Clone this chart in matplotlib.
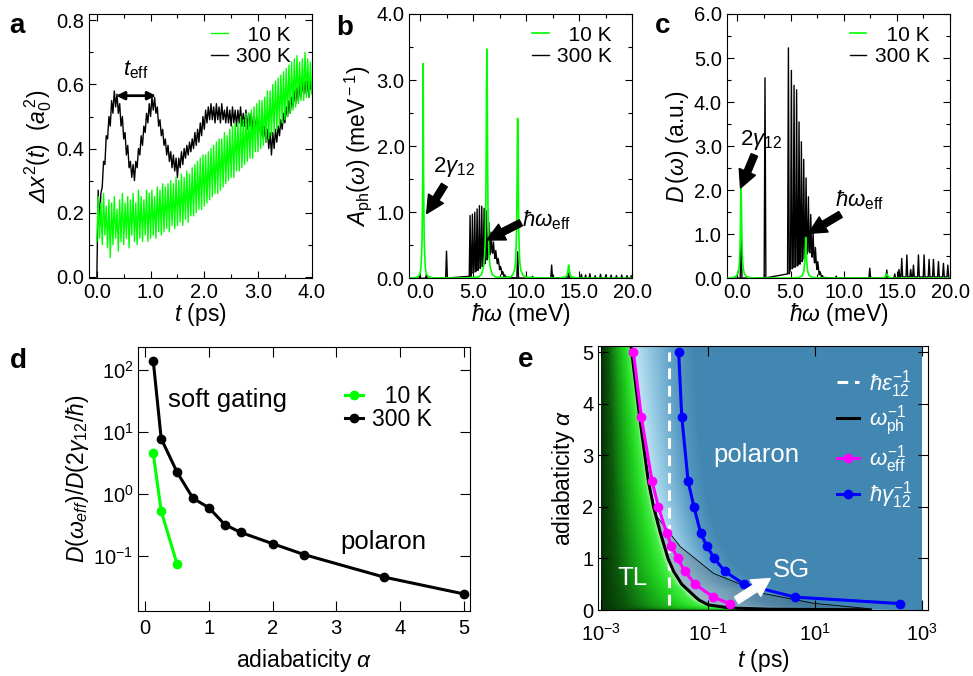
import numpy as np
import matplotlib
matplotlib.use("Agg")
import matplotlib.pyplot as plt
from matplotlib.colors import LinearSegmentedColormap
from matplotlib.lines import Line2D
from matplotlib.ticker import MultipleLocator, FixedLocator, NullLocator, FormatStrFormatter

plt.rcParams['font.family'] = ['Liberation Sans', 'DejaVu Sans']
plt.rcParams['mathtext.fontset'] = 'custom'
plt.rcParams['mathtext.rm'] = 'Liberation Sans'
plt.rcParams['mathtext.it'] = 'Liberation Sans:italic'
plt.rcParams['mathtext.bf'] = 'Liberation Sans:bold'
plt.rcParams['mathtext.sf'] = 'Liberation Sans:italic'   # used for the slanted capital Delta

GREEN = '#00ff00'
TICK = 14.5
LABEL = 16.5

# ---- panel a: mean square displacement, sampled every 0.025 ps ----
dt_a = 0.025
dx2_300K = [
    0.00, 0.27, 0.16, 0.26, 0.28, 0.36, 0.35, 0.44, 0.43, 0.50,
    0.47, 0.55, 0.51, 0.58, 0.53, 0.57, 0.51, 0.54, 0.47, 0.50,
    0.43, 0.45, 0.38, 0.41, 0.34, 0.36, 0.31, 0.35, 0.30, 0.36,
    0.34, 0.40, 0.38, 0.44, 0.41, 0.47, 0.45, 0.51, 0.48, 0.54,
    0.50, 0.56, 0.52, 0.56, 0.51, 0.53, 0.47, 0.49, 0.44, 0.46,
    0.41, 0.43, 0.38, 0.41, 0.36, 0.39, 0.34, 0.38, 0.33, 0.37,
    0.31, 0.37, 0.34, 0.39, 0.35, 0.40, 0.37, 0.41, 0.38, 0.42,
    0.39, 0.43, 0.40, 0.45, 0.41, 0.46, 0.42, 0.48, 0.44, 0.50,
    0.46, 0.52, 0.48, 0.53, 0.49, 0.54, 0.49, 0.53, 0.48, 0.54,
    0.49, 0.53, 0.48, 0.54, 0.49, 0.52, 0.48, 0.53, 0.48, 0.52,
    0.47, 0.53, 0.48, 0.52, 0.47, 0.52, 0.48, 0.53, 0.47, 0.51,
    0.47, 0.52, 0.46, 0.51, 0.47, 0.51, 0.46, 0.50, 0.46, 0.50,
    0.45, 0.49, 0.44, 0.48, 0.43, 0.47, 0.42, 0.46, 0.40, 0.45,
    0.38, 0.45, 0.40, 0.46, 0.42, 0.47, 0.44, 0.49, 0.46, 0.51,
    0.48, 0.53, 0.50, 0.55, 0.51, 0.56, 0.53, 0.58, 0.54, 0.59,
    0.55, 0.60, 0.56, 0.61, 0.57, 0.61, 0.57, 0.61, 0.56, 0.61,
    0.58]
dx2_10K = [
    0.11, 0.25, 0.12, 0.23, 0.10, 0.26, 0.13, 0.22, 0.09, 0.24,
    0.06, 0.23, 0.10, 0.25, 0.12, 0.21, 0.08, 0.24, 0.11, 0.26,
    0.10, 0.23, 0.12, 0.25, 0.09, 0.24, 0.13, 0.26, 0.11, 0.23,
    0.10, 0.27, 0.12, 0.25, 0.11, 0.24, 0.13, 0.27, 0.11, 0.26,
    0.12, 0.27, 0.13, 0.25, 0.12, 0.28, 0.14, 0.27, 0.13, 0.29,
    0.14, 0.28, 0.15, 0.29, 0.14, 0.30, 0.16, 0.29, 0.15, 0.31,
    0.16, 0.30, 0.17, 0.32, 0.16, 0.31, 0.18, 0.33, 0.17, 0.32,
    0.19, 0.34, 0.19, 0.35, 0.20, 0.36, 0.21, 0.37, 0.21, 0.38,
    0.22, 0.38, 0.23, 0.39, 0.24, 0.40, 0.25, 0.41, 0.26, 0.42,
    0.26, 0.43, 0.27, 0.43, 0.28, 0.45, 0.29, 0.44, 0.30, 0.46,
    0.31, 0.47, 0.31, 0.48, 0.33, 0.48, 0.33, 0.50, 0.34, 0.49,
    0.35, 0.51, 0.36, 0.51, 0.37, 0.52, 0.37, 0.53, 0.39, 0.54,
    0.39, 0.55, 0.40, 0.55, 0.41, 0.56, 0.42, 0.58, 0.43, 0.58,
    0.44, 0.60, 0.45, 0.61, 0.46, 0.62, 0.47, 0.63, 0.48, 0.64,
    0.49, 0.65, 0.50, 0.66, 0.51, 0.67, 0.52, 0.68, 0.53, 0.69,
    0.54, 0.67, 0.55, 0.68, 0.55, 0.70, 0.56, 0.68, 0.56, 0.67,
    0.57]

# ---- panel b: phonon spectral function (meV, meV^-1) ----
b_green_x = [-1.0, -0.5, -0.2, 0.0, 0.1, 0.15, 0.2, 0.23, 0.265, 0.3, 0.335, 0.37, 0.4, 0.45, 0.5, 0.6, 0.8, 1.1, 1.8,
             4.5, 5.5, 5.8, 6.0, 6.1, 6.15, 6.2, 6.23, 6.265, 6.3, 6.335, 6.37, 6.4, 6.45, 6.5, 6.6, 6.8, 7.1, 8.0,
             8.5, 8.7, 8.9, 9.0, 9.05, 9.1, 9.13, 9.165, 9.2, 9.235, 9.27, 9.3, 9.35, 9.4, 9.5, 9.7, 10.0, 11.0,
             13.0, 13.7, 13.85, 13.93, 14.0, 14.07, 14.15, 14.3, 15.0, 20.0]
b_green_y = [0.0, 0.007, 0.025, 0.063, 0.17, 0.36, 0.58, 1.07, 1.62, 3.25, 1.62, 1.07, 0.58, 0.36, 0.17, 0.063, 0.025, 0.01, 0.004,
             0.005, 0.02, 0.06, 0.18, 0.38, 0.62, 1.14, 1.73, 2.78, 3.47, 2.78, 1.73, 1.14, 0.62, 0.38, 0.18, 0.06, 0.02, 0.01,
             0.02, 0.045, 0.12, 0.25, 0.43, 0.75, 1.2, 1.94, 2.42, 1.94, 1.2, 0.75, 0.43, 0.25, 0.12, 0.045, 0.02, 0.005,
             0.003, 0.02, 0.05, 0.12, 0.20, 0.12, 0.05, 0.02, 0.003, 0.0]
b_black_pos = [0.0, 0.6, 2.5, 4.72, 4.94, 5.16, 5.38, 5.60, 5.82, 6.04, 6.26, 6.48, 6.70, 6.92, 7.14, 7.36,
               7.58, 7.80, 8.0, 9.2, 10.6, 12.4, 14.0, 15.2, 15.6, 16.0, 16.5, 17.0, 17.5, 18.0, 18.5, 19.0,
               19.5, 19.9]
b_black_height = [0.04, 0.05, 0.41, 0.95, 0.97, 1.00, 1.05, 1.10, 1.09, 1.06, 1.02, 0.85, 0.70, 0.55, 0.42, 0.30,
                  0.18, 0.10, 0.05, 0.40, 0.03, 0.20, 0.08, 0.06, 0.05, 0.07, 0.04, 0.06, 0.05, 0.05, 0.04, 0.05,
                  0.04, 0.04]
b_black_floor = [0.0, 0.0, 0.005, 0.03, 0.08, 0.10, 0.12, 0.15, 0.18, 0.22, 0.28, 0.35, 0.40, 0.38, 0.30, 0.22,
                 0.13, 0.06, 0.02, 0.005, 0.0, 0.005, 0.005, 0.0, 0.0, 0.0, 0.0, 0.0, 0.0, 0.0, 0.0, 0.0,
                 0.0, 0.0]

# ---- panel c: spectral density (a.u.) ----
c_green_x = [-1.0, -0.45, -0.15, 0.05, 0.15, 0.2, 0.25, 0.28, 0.315, 0.35, 0.385, 0.42, 0.45, 0.5, 0.55, 0.65, 0.85, 1.15, 2.0,
             5.0, 5.8, 6.1, 6.25, 6.33, 6.38, 6.43, 6.48, 6.53, 6.61, 6.76, 7.06, 8.0,
             13.5, 13.9, 14.05, 14.2, 14.6, 20.0]
c_green_y = [0.0, 0.016, 0.04, 0.11, 0.23, 0.37, 0.67, 1.02, 1.64, 2.05, 1.64, 1.02, 0.67, 0.37, 0.23, 0.11, 0.04, 0.016, 0.004,
             0.005, 0.02, 0.06, 0.16, 0.36, 0.62, 0.93, 0.62, 0.36, 0.16, 0.06, 0.02, 0.005,
             0.003, 0.03, 0.10, 0.03, 0.003, 0.0]
c_black_pos = [0.35, 2.6, 4.80, 5.08, 5.33, 5.57, 5.80, 6.02, 6.24, 6.46, 6.68, 6.90, 7.12, 7.34, 7.56, 7.78,
               8.0, 9.3, 12.45, 14.05, 14.8, 15.2, 15.46, 15.94, 16.3, 16.56, 17.03, 17.56, 18.03, 18.44, 18.91,
               19.38, 19.79]
c_black_height = [1.29, 4.55, 5.23, 4.72, 4.38, 4.28, 3.55, 3.10, 2.70, 2.28, 1.85, 1.45, 1.05, 0.70, 0.38, 0.15,
                  0.06, 0.05, 0.23, 0.19, 0.10, 0.20, 0.45, 0.53, 0.20, 0.30, 0.53, 0.53, 0.43, 0.43, 0.38,
                  0.34, 0.30]
c_black_floor = [0.005, 0.01, 0.10, 0.22, 0.25, 0.28, 0.32, 0.38, 0.45, 0.55, 0.60, 0.58, 0.48, 0.35, 0.20, 0.08,
                 0.02, 0.005, 0.005, 0.01, 0.01, 0.02, 0.03, 0.03, 0.03, 0.03, 0.03, 0.03, 0.03, 0.03, 0.03,
                 0.03, 0.03]

# ---- panel d: ratio vs adiabaticity ----
alpha_d = [0.125, 0.25, 0.5, 0.75, 1.0, 1.25, 1.5, 2.0, 2.5, 3.75, 5.0]
ratio_300K = [141, 7.8, 2.24, 0.85, 0.60, 0.32, 0.24, 0.158, 0.105, 0.0457, 0.0245]
alpha_d10 = [0.125, 0.25, 0.5]
ratio_10K = [4.5, 0.53, 0.074]

# ---- panel e: time scales vs adiabaticity ----
alpha_e = [5.0, 3.75, 2.5, 2.0, 1.5, 1.25, 1.0, 0.75, 0.5, 0.25, 0.125]
t_eff = [0.0040, 0.0056, 0.0089, 0.0117, 0.0166, 0.0204, 0.0268, 0.0366, 0.057, 0.125, 0.25]
t_gamma = [0.028, 0.032, 0.042, 0.054, 0.072, 0.093, 0.13, 0.205, 0.47, 4.2, 390]
alpha_ph = [5.12, 3.75, 2.5, 2.0, 1.5, 1.0, 0.75, 0.5, 0.25, 0.19, 0.1, 0.04, 0.015, 0.005]
t_ph = [0.0036, 0.0052, 0.0076, 0.0095, 0.0127, 0.0177, 0.0225, 0.032, 0.058, 0.068, 0.10, 0.25, 1.5, 107]
alpha_sg = [2.5, 1.81, 1.23, 0.71, 0.32, 0.13, 0.03, 0.005]
t_sg = [0.0076, 0.011, 0.030, 0.126, 1.08, 9.3, 94, 107]
t_eps = 0.0184


def spike_line(pos, height, floor, hw=0.08):
    xs, ys = [-1.0], [0.0]
    for c, h, f in zip(pos, height, floor):
        xs += [c - hw, c, c + hw]
        ys += [f, h, f]
    xs.append(20.0)
    ys.append(0.0)
    return xs, ys


def style(ax, major=5, minor=3, labelsize=TICK):
    ax.tick_params(which='both', direction='in', top=True, right=True, width=0.8, labelsize=labelsize)
    ax.tick_params(which='major', length=major)
    ax.tick_params(which='minor', length=minor)
    for s in ax.spines.values():
        s.set_linewidth(0.8)


def arrow(ax, text_xy, tip_xy, color='black'):
    ax.annotate('', xy=tip_xy, xytext=text_xy,
                arrowprops=dict(arrowstyle='simple,head_width=0.9,head_length=0.9,tail_width=0.35',
                                color=color, mutation_scale=14, shrinkA=0, shrinkB=0))


def temp_legend(ax, l10, l300):
    ax.legend([l10, l300], ['  10 K', '300 K'], loc='upper right', bbox_to_anchor=(0.955, 0.995),
              frameon=False, fontsize=15, handlelength=0.8, handletextpad=0.4, borderpad=0,
              labelspacing=0.1)


fig = plt.figure(figsize=(9.73, 6.76), dpi=100)

# ================= a =================
ax = fig.add_axes([0.0918, 0.5883, 0.2286, 0.391])
t_a = np.arange(len(dx2_300K)) * dt_a
l300, = ax.plot(t_a, dx2_300K, color='black', lw=1.0, zorder=2)
l10, = ax.plot(t_a, dx2_10K, color=GREEN, lw=1.0, zorder=3)
ax.set_xlim(-0.14, 4.0)
ax.set_ylim(-0.005, 0.82)
ax.xaxis.set_major_locator(MultipleLocator(1.0))
ax.xaxis.set_minor_locator(MultipleLocator(0.5))
ax.yaxis.set_major_locator(MultipleLocator(0.2))
ax.yaxis.set_minor_locator(MultipleLocator(0.1))
ax.xaxis.set_major_formatter(FormatStrFormatter('%.1f'))
ax.yaxis.set_major_formatter(FormatStrFormatter('%.1f'))
style(ax)
ax.set_xlabel(r'$t$ (ps)', fontsize=LABEL, labelpad=-1)
ax.set_ylabel(r'$\mathsf{\Delta} x^2(t)$  $(a_0^{\,2})$', fontsize=LABEL, labelpad=2)
temp_legend(ax, l10, l300)
ax.annotate('', xy=(0.36, 0.565), xytext=(1.10, 0.565),
            arrowprops=dict(arrowstyle='<|-|>', color='black', lw=2, mutation_scale=12, shrinkA=0, shrinkB=0))
ax.text(0.73, 0.645, r'$t_{\rm eff}$', fontsize=16, ha='center', va='center')

# ================= b =================
ax = fig.add_axes([0.4207, 0.5883, 0.2292, 0.391])
bx, by = spike_line(b_black_pos, b_black_height, b_black_floor)
l300, = ax.plot(bx, by, color='black', lw=1.0, zorder=2)
l10, = ax.plot(b_green_x, b_green_y, color=GREEN, lw=1.2, zorder=3)
ax.set_xlim(-1, 20)
ax.set_ylim(0, 4.0)
ax.xaxis.set_major_locator(MultipleLocator(5.0))
ax.xaxis.set_minor_locator(MultipleLocator(2.5))
ax.yaxis.set_major_locator(MultipleLocator(1.0))
ax.yaxis.set_minor_locator(MultipleLocator(0.5))
ax.xaxis.set_major_formatter(FormatStrFormatter('%.1f'))
ax.yaxis.set_major_formatter(FormatStrFormatter('%.1f'))
style(ax)
ax.set_xlabel(r'$\hbar\omega$ (meV)', fontsize=LABEL, labelpad=-1)
ax.set_ylabel(r'$A_{\rm ph}(\omega)$ (meV$^{\rm -1}$)', fontsize=LABEL, labelpad=2)
temp_legend(ax, l10, l300)
ax.text(1.2, 1.69, r'$2\gamma_{12}$', fontsize=16, ha='left', va='center')
arrow(ax, (2.3, 1.41), (0.63, 0.98))
ax.text(9.6, 0.88, r'$\hbar\omega_{\rm eff}$', fontsize=16, ha='left', va='center')
arrow(ax, (9.5, 0.84), (6.3, 0.58))

# ================= c =================
ax = fig.add_axes([0.7469, 0.5883, 0.2295, 0.391])
cx, cy = spike_line(c_black_pos, c_black_height, c_black_floor)
l300, = ax.plot(cx, cy, color='black', lw=1.0, zorder=2)
l10, = ax.plot(c_green_x, c_green_y, color=GREEN, lw=1.2, zorder=3)
ax.set_xlim(-1, 20)
ax.set_ylim(0, 6.0)
ax.xaxis.set_major_locator(MultipleLocator(5.0))
ax.xaxis.set_minor_locator(MultipleLocator(2.5))
ax.yaxis.set_major_locator(MultipleLocator(1.0))
ax.yaxis.set_minor_locator(MultipleLocator(0.5))
ax.xaxis.set_major_formatter(FormatStrFormatter('%.1f'))
ax.yaxis.set_major_formatter(FormatStrFormatter('%.1f'))
style(ax)
ax.set_xlabel(r'$\hbar\omega$ (meV)', fontsize=LABEL, labelpad=-1)
ax.set_ylabel(r'$D\,(\omega)$ (a.u.)', fontsize=LABEL, labelpad=2)
temp_legend(ax, l10, l300)
ax.text(0.25, 3.15, r'$2\gamma_{12}$', fontsize=16, ha='left', va='center')
arrow(ax, (1.6, 2.8), (0.3, 2.05))
ax.text(9.2, 1.78, r'$\hbar\omega_{\rm eff}$', fontsize=16, ha='left', va='center')
arrow(ax, (9.7, 1.45), (6.7, 1.02))

# ================= d =================
ax = fig.add_axes([0.1421, 0.0962, 0.3409, 0.391])
l300, = ax.plot(alpha_d, ratio_300K, color='black', lw=2.2, marker='o', ms=6)
l10, = ax.plot(alpha_d10, ratio_10K, color=GREEN, lw=2.2, marker='o', ms=6)
ax.set_yscale('log')
ax.set_xlim(-0.11, 5.1)
ax.set_ylim(0.013, 237)
ax.xaxis.set_major_locator(MultipleLocator(1))
ax.yaxis.set_major_locator(FixedLocator([0.1, 1, 10, 100]))
ax.yaxis.set_minor_locator(NullLocator())
style(ax, major=7)
ax.tick_params(axis='x', pad=6)
ax.set_xlabel(r'adiabaticity $\alpha$', fontsize=LABEL, labelpad=6)
ax.set_ylabel(r'$D(\omega_{eff})/D(2\gamma_{12}/\hbar)$', fontsize=LABEL, labelpad=2)
ax.legend([l10, l300], ['  10 K', '300 K'], loc='upper right', bbox_to_anchor=(0.92, 0.9),
          frameon=False, fontsize=16.5, handlelength=0.8, handletextpad=0.4, borderpad=0, labelspacing=0.0)
ax.text(0.35, 32.8, 'soft gating', fontsize=18.5, ha='left', va='center')
ax.text(3.06, 0.168, 'polaron', fontsize=18.5, ha='left', va='center')

# ================= e =================
ax = fig.add_axes([0.6149, 0.0976, 0.3389, 0.3905])
ax.set_xscale('log')

# background shading: green before the phonon time, blue fading after it
L_edges = np.linspace(-3, 3, 481)
A_edges = np.linspace(0, 5.12, 257)
Lc = 0.5 * (L_edges[1:] + L_edges[:-1])
Ac = 0.5 * (A_edges[1:] + A_edges[:-1])
lph = np.interp(Ac, alpha_ph[::-1], np.log10(t_ph)[::-1])
lg = np.interp(Ac, alpha_e[::-1], np.log10(t_gamma)[::-1])
width = np.clip(lg - lph + 0.3, 0.5, 1.8)
LL, LPH = np.meshgrid(Lc, lph)
W = np.meshgrid(Lc, width)[1]
g = np.clip((LL + 3) / (LPH + 3), 0, 1)
b = np.clip((LL - LPH) / W, 0, 1)
S = np.where(LL < LPH, 0.5 * g, 0.5 + 0.5 * b)
cmap = LinearSegmentedColormap.from_list('bg', [
    (0.0, '#053005'), (0.12, '#0c5a0c'), (0.25, '#15a015'), (0.38, '#22d822'),
    (0.46, '#45ee45'), (0.495, '#c4f4c4'), (0.505, '#c6e6f4'), (0.62, '#9acde6'),
    (0.82, '#5b9dc4'), (1.0, '#4287b1')])
ax.pcolormesh(10 ** L_edges, A_edges, S, cmap=cmap, vmin=0, vmax=1, shading='flat',
              rasterized=True, zorder=0)

sg_x = np.concatenate([t_ph[2:], t_sg[::-1]])
sg_y = np.concatenate([alpha_ph[2:], alpha_sg[::-1]])
ax.fill(sg_x, sg_y, color='#4a5a66', alpha=0.3, lw=0, zorder=1)
ax.plot(t_sg, alpha_sg, color='black', lw=0.6, zorder=2)

ax.vlines(t_eps, 0.1, 5.0, colors='white', lw=2.2, linestyles=(0, (3.5, 2.2)), zorder=3)
h_ph, = ax.plot(t_ph, alpha_ph, color='black', lw=2.2, zorder=4)
h_eff, = ax.plot(t_eff, alpha_e, color='#ff00ff', lw=2.2, marker='o', ms=6, zorder=5)
h_gam, = ax.plot(t_gamma, alpha_e, color='#0000ff', lw=2.2, marker='o', ms=6, zorder=5)

ax.set_xlim(8.8e-4, 1.29e3)
ax.set_ylim(0, 5.12)
ax.xaxis.set_major_locator(FixedLocator([1e-3, 1e-1, 1e1, 1e3]))
ax.xaxis.set_minor_locator(NullLocator())
ax.yaxis.set_major_locator(MultipleLocator(1))
style(ax, major=7)
ax.tick_params(axis='x', pad=9)
ax.set_xlabel(r'$t$ (ps)', fontsize=LABEL, labelpad=2)
ax.set_ylabel(r'adiabaticity $\alpha$', fontsize=LABEL, labelpad=4)

leg_eps = Line2D([], [], color='white', lw=2.2, linestyle=(0, (3.5, 2.2)))
ax.legend([leg_eps, h_ph, h_eff, h_gam],
          [r'$\hbar\varepsilon_{12}^{-1}$', r'$\omega_{\rm ph}^{-1}$',
           r'$\omega_{\rm eff}^{-1}$', r'$\hbar\gamma_{12}^{-1}$'],
          loc='upper left', bbox_to_anchor=(0.69, 0.96), frameon=False, fontsize=16,
          labelcolor='white', handlelength=1.0, handletextpad=0.45, labelspacing=0.2, borderpad=0)
ax.text(0.124, 3.0, 'polaron', color='white', fontsize=18.5, ha='left', va='center')
ax.text(0.002, 0.62, 'TL', color='white', fontsize=18.5, ha='left', va='center')
ax.text(1.64, 0.78, 'SG', color='white', fontsize=18.5, ha='left', va='center')
ax.annotate('', xy=(1.44, 0.61), xytext=(0.34, 0.19),
            arrowprops=dict(arrowstyle='simple,head_width=1.0,head_length=0.9,tail_width=0.4',
                            color='white', mutation_scale=14, shrinkA=0, shrinkB=0), zorder=6)

# panel letters
for lab, x, y in [('a', 0.010, 0.951), ('b', 0.346, 0.948), ('c', 0.673, 0.951),
                  ('d', 0.010, 0.456), ('e', 0.532, 0.457)]:
    fig.text(x, y, lab, fontsize=20, fontweight='bold', va='baseline')

fig.savefig('out.png', dpi=100)
